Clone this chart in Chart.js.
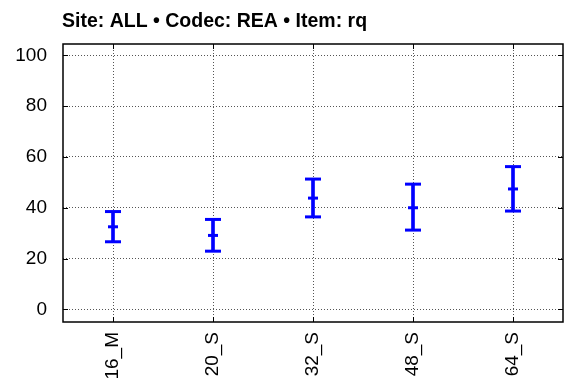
<!DOCTYPE html>
<html>
<head>
<meta charset="utf-8">
<script src="https://cdn.jsdelivr.net/npm/chart.js@4"></script>
<style>
  html, body { margin: 0; background: #fff; overflow: hidden; }
  #wrap { width: 564px; height: 389px; overflow: hidden; position: relative; }
  /* a bit wider than the window: Chart.js keeps ~11px right of the plot for the last rotated label */
  #inner { width: 574px; height: 389px; position: absolute; left: 0; top: 0; }
</style>
</head>
<body>
<div id="wrap"><div id="inner"><canvas id="errChart"></canvas></div></div>
<script>
// data
const categories = ['16_M', '20_S', '32_S', '48_S', '64_S'];
const means = [32.5, 29.1, 43.8, 40.0, 47.4];
const lows  = [26.6, 22.9, 36.4, 31.2, 38.7];
const highs = [38.5, 35.4, 51.3, 49.3, 56.2];
const yTicks = [0, 20, 40, 60, 80, 100];
const titleText = 'Site: ALL \u2022 Codec: REA \u2022 Item: rq';

const blue = '#0000ff';
const fontFamily = '"Liberation Sans", Arial, Helvetica, sans-serif';

// frame box + inward tick marks + title
const framePlugin = {
    id: 'frame',
    afterDraw(chart) {
        const c = chart.ctx;
        const a = chart.chartArea;
        const xs = chart.scales.x;
        const ys = chart.scales.y;
        const t = 5;
        c.save();
        c.strokeStyle = '#000';
        c.lineWidth = 1;
        c.beginPath();
        yTicks.forEach(v => {
            const y = Math.round(ys.getPixelForValue(v)) + 0.5;
            c.moveTo(a.left, y); c.lineTo(a.left + t, y);
            c.moveTo(a.right, y); c.lineTo(a.right - t, y);
        });
        categories.forEach((_, i) => {
            const x = Math.round(xs.getPixelForValue(i)) + 0.5;
            c.moveTo(x, a.bottom); c.lineTo(x, a.bottom - t);
            c.moveTo(x, a.top); c.lineTo(x, a.top + t);
        });
        c.stroke();
        c.lineWidth = 1.5;
        c.strokeRect(a.left, a.top, a.right - a.left, a.bottom - a.top);
        // title
        c.fillStyle = '#000';
        c.font = 'bold 19.5px ' + fontFamily;
        c.textBaseline = 'alphabetic';
        c.textAlign = 'left';
        c.fillText(titleText, a.left - 1, 27);
        c.restore();
    }
};

const ctx = document.getElementById('errChart').getContext('2d');
const errChart = new Chart(ctx, {
    data: {
        labels: categories,
        datasets: [
            // vertical whisker low..high
            {
                type: 'bar',
                data: lows.map((l, i) => [l, highs[i]]),
                backgroundColor: blue,
                borderWidth: 0,
                barThickness: 3,
                order: 3
            },
            // caps
            {
                type: 'line',
                data: lows,
                showLine: false,
                pointStyle: 'line',
                pointRadius: 8,
                pointBorderWidth: 3,
                pointBorderColor: blue,
                order: 2
            },
            {
                type: 'line',
                data: highs,
                showLine: false,
                pointStyle: 'line',
                pointRadius: 8,
                pointBorderWidth: 3,
                pointBorderColor: blue,
                order: 1
            },
            // mean tick
            {
                type: 'line',
                data: means,
                showLine: false,
                pointStyle: 'line',
                pointRadius: 5,
                pointBorderWidth: 3,
                pointBorderColor: blue,
                order: 0
            }
        ]
    },
    options: {
        responsive: true,
        maintainAspectRatio: false,
        animation: false,
        layout: { padding: { top: 44, right: 0, left: 0, bottom: 0 } },
        plugins: {
            legend: { display: false },
            tooltip: { enabled: false },
            title: { display: false }
        },
        scales: {
            x: {
                type: 'category',
                offset: true,
                grid: { offset: false, color: '#555', drawTicks: false },
                border: { display: false, dash: [1, 2] },
                ticks: {
                    color: '#000',
                    font: { family: fontFamily, size: 19 },
                    minRotation: 90,
                    maxRotation: 90,
                    padding: 10,
                    autoSkip: false
                },
                afterFit: s => { s.height = 67; }
            },
            y: {
                type: 'linear',
                min: -5,
                max: 104.5,
                grid: { color: '#555', drawTicks: false },
                border: { display: false, dash: [1, 2] },
                ticks: {
                    color: '#000',
                    font: { family: fontFamily, size: 19 },
                    padding: 16
                },
                afterBuildTicks: s => { s.ticks = yTicks.map(v => ({ value: v })); },
                afterFit: s => { s.width = 63; }
            }
        }
    },
    plugins: [framePlugin]
});
</script>
</body>
</html>
